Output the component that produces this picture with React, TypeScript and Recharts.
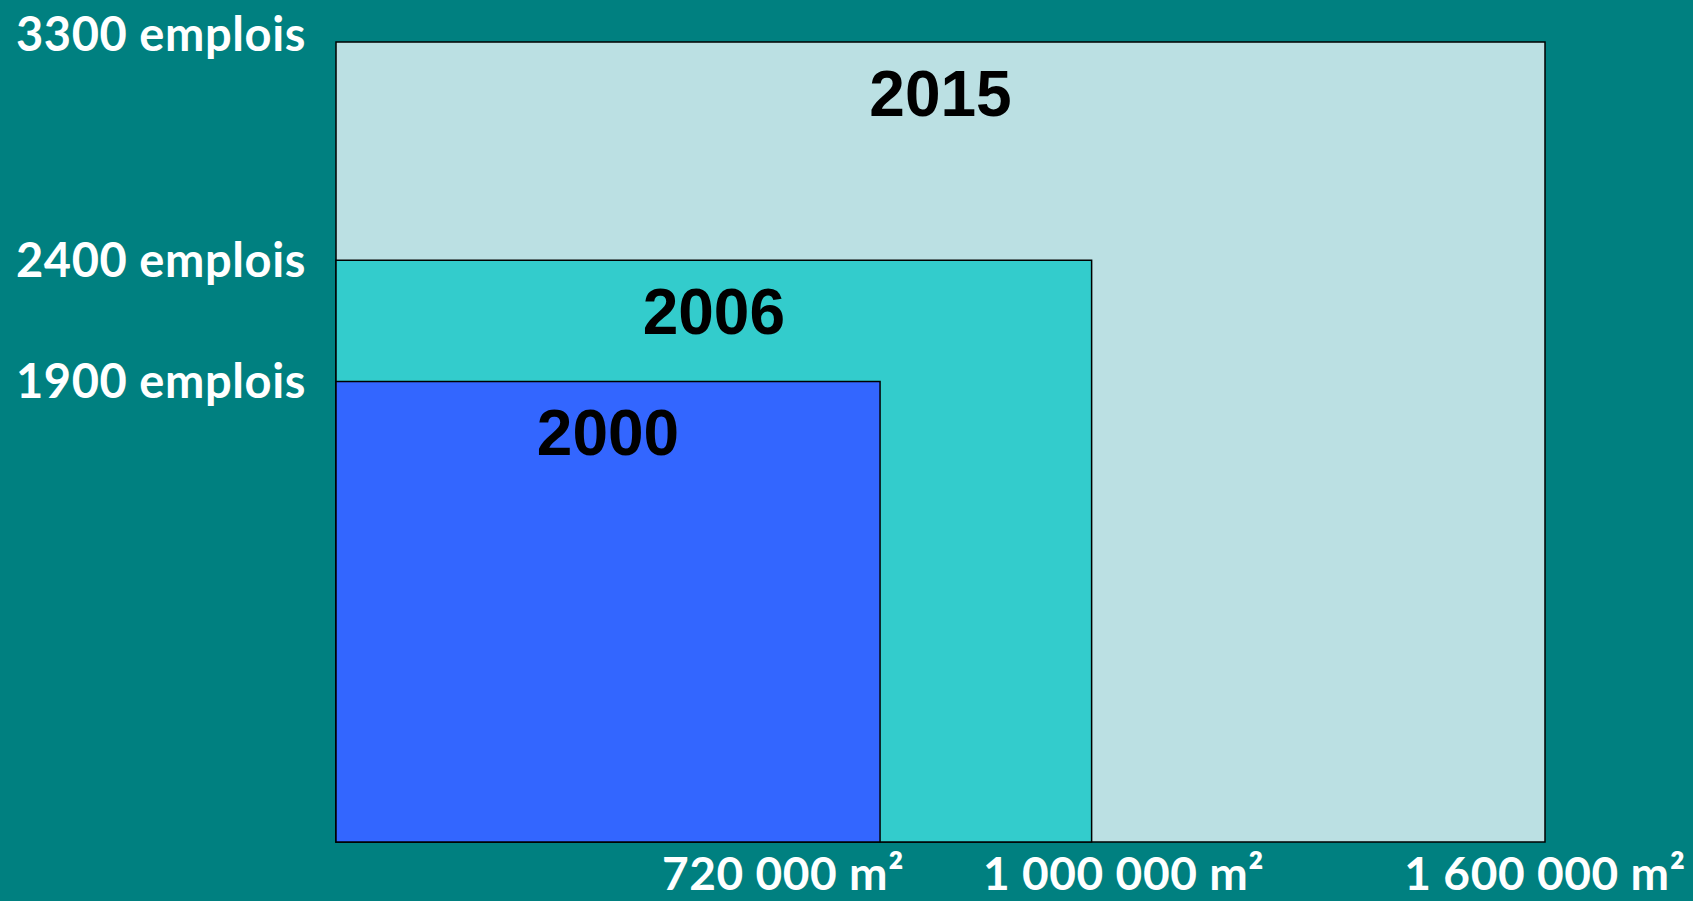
import { ComposedChart, XAxis, YAxis, ReferenceArea, Scatter } from 'recharts'

const years = ['2000', '2006', '2015']
const surfaces = [720000, 1000000, 1600000]
const jobs = [1900, 2400, 3300]
const surfaceLabels = ['720 000 m²', '1 000 000 m²', '1 600 000 m²']
const jobLabels = ['1900 emplois', '2400 emplois', '3300 emplois']

const fills: Record<string, string> = { '2000': '#3366FF', '2006': '#33CCCC', '2015': '#BBE0E3' }

const rows = years.map((y, i) => ({ year: y, surface: surfaces[i], jobs: jobs[i] }))

const tickFont = { fontFamily: 'Lato', fontWeight: 700, fontSize: 47, fill: '#FFFFFF', letterSpacing: 0.6 }

// labels in the original are not centred on their ticks, nudge them
const xNudge: Record<number, number> = { 720000: -97, 1000000: 32, 1600000: 0 }
const yNudge: Record<number, number> = { 3300: 9 }

function XTick(props: any) {
  const { x, y, payload } = props
  const i = surfaces.indexOf(payload.value)
  return (
    <text x={x + (xNudge[payload.value] || 0)} y={y + 48} textAnchor="middle" {...tickFont} fontSize={46}>
      {surfaceLabels[i]}
    </text>
  )
}

function YTick(props: any) {
  const { x, y, payload } = props
  const i = jobs.indexOf(payload.value)
  return (
    <text x={x} y={y + (yNudge[payload.value] ?? 17)} textAnchor="end" {...tickFont}>
      {jobLabels[i]}
    </text>
  )
}

const yearLabel = (text: string) => (props: any) => {
  const vb = props.viewBox
  return (
    <text
      x={vb.x + vb.width / 2}
      y={vb.y + 74}
      textAnchor="middle"
      fontFamily="Liberation Sans, Arial"
      fontWeight={700}
      fontSize={64}
      fill="#000000"
    >
      {text}
    </text>
  )
}

export default function App() {
  const ordered = [...rows].reverse()
  return (
    <div style={{ position: 'fixed', inset: 0, background: '#008080' }}>
      <ComposedChart width={1693} height={901} data={rows} margin={{ top: 42, right: 148, bottom: 0, left: 0 }}>
        <XAxis
          dataKey="surface"
          type="number"
          domain={[0, 1600000]}
          ticks={surfaces}
          axisLine={false}
          tickLine={false}
          tickSize={0}
          tickMargin={0}
          height={59}
          tick={<XTick />}
          allowDataOverflow
        />
        <YAxis
          dataKey="jobs"
          type="number"
          domain={[0, 3300]}
          ticks={jobs}
          axisLine={false}
          tickLine={false}
          tickSize={0}
          tickMargin={30}
          width={336}
          tick={<YTick />}
          allowDataOverflow
        />
        {ordered.map((r) => (
          <ReferenceArea
            key={r.year}
            x1={0}
            x2={r.surface}
            y1={0}
            y2={r.jobs}
            fill={fills[r.year]}
            fillOpacity={1}
            stroke="#000000"
            strokeWidth={1.5}
            ifOverflow="visible"
            label={yearLabel(r.year)}
          />
        ))}
        <Scatter dataKey="jobs" fill="none" shape={() => <g />} isAnimationActive={false} />
      </ComposedChart>
    </div>
  )
}
